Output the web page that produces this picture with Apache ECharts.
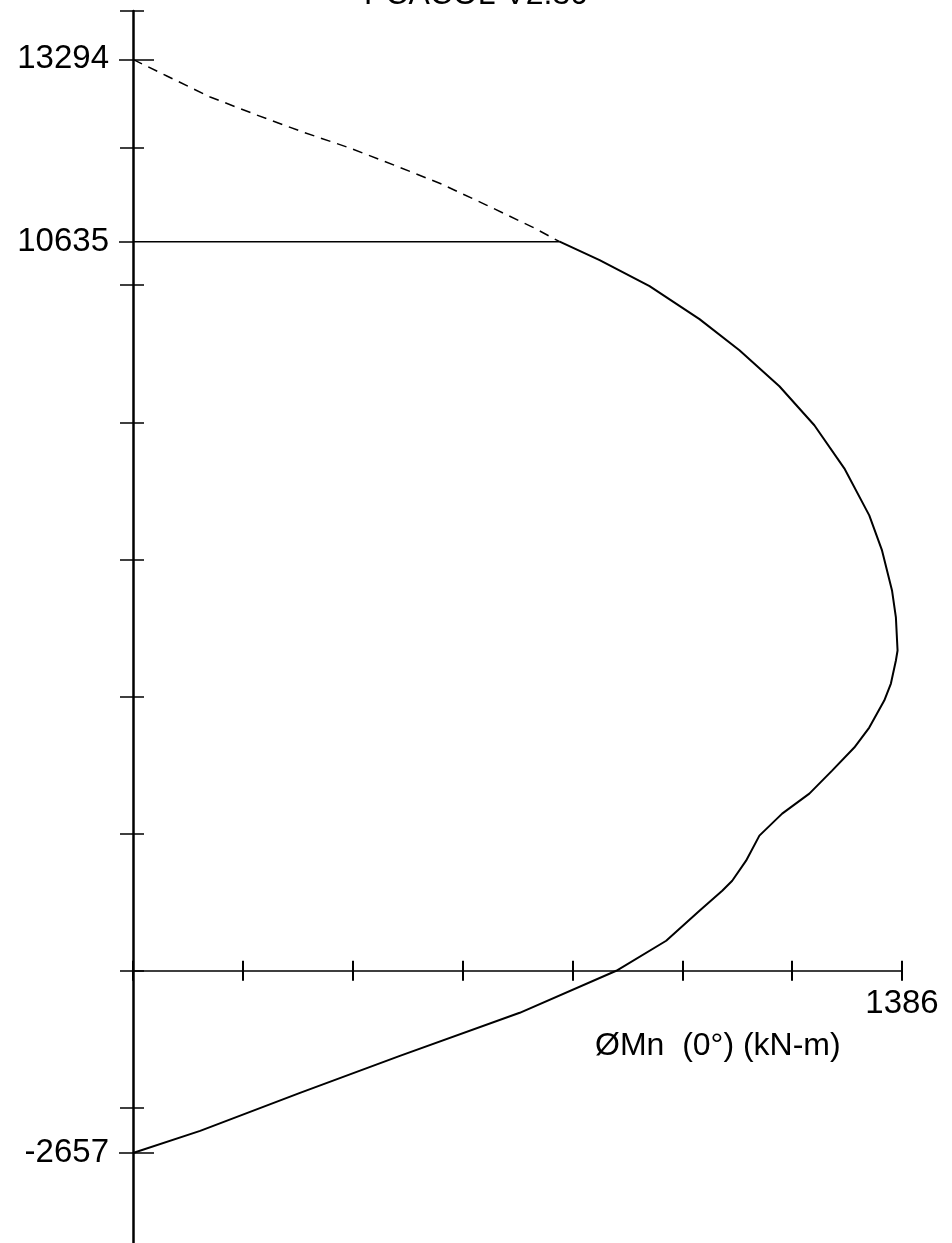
<!DOCTYPE html>
<html>
<head>
<meta charset="utf-8">
<script src="https://cdn.jsdelivr.net/npm/echarts@6/dist/echarts.min.js"></script>
<style>
html,body{margin:0;padding:0;background:#fff;}
#chart{width:952px;height:1243px;}
</style>
</head>
<body>
<div id="chart"></div>
<script>
// ---- data ----
const titleText = 'PCACOL V2.30';
const xAxisName = 'ØMn  (0°) (kN-m)';
const xMax = 1386;          // ØMn axis end
const xTickStep = 198;      // 7 ticks to 1386
const yMin = -4000, yMax = 14000, yTickStep = 2000;
const yLabelValues = [13294, 10635, -2657];
const capP = 10635;          // Pmax cut-off
// dashed (above the cap)
const dashM = [0, 61, 139, 223, 306, 391, 475, 556, 637, 720, 769];
const dashP = [13294, 13052, 12746, 12483, 12235, 12001, 11738, 11476, 11169, 10848, 10635];
// solid interaction curve
const curveM = [769, 841, 931, 1021, 1093, 1165, 1228, 1282, 1327, 1350, 1368, 1375, 1378, 1375, 1366, 1354, 1327, 1300, 1260, 1219, 1170, 1129, 1105, 1080, 1062, 1021, 961, 871, 697, 481, 301, 121, 0];
const curveP = [10635, 10366, 9986, 9505, 9052, 8526, 7957, 7329, 6643, 6132, 5548, 5154, 4672, 4526, 4190, 3942, 3548, 3256, 2920, 2584, 2292, 1971, 1606, 1314, 1168, 876, 438, 0, -613, -1241, -1781, -2336, -2657];

const pair = (a, b) => a.map((v, i) => [v, b[i]]);
const FONT = '"Liberation Sans", Arial, Helvetica, sans-serif';

const chart = echarts.init(document.getElementById('chart'), null, {renderer: 'canvas'});

const baseY = {type: 'value', min: yMin, max: yMax, interval: yTickStep, position: 'left',
  splitLine: {show: false}, axisLabel: {show: false}};
const baseX = {type: 'value', min: 0, max: xMax, interval: xTickStep, position: 'bottom',
  splitLine: {show: false}, axisLabel: {show: false}};

const option = {
  backgroundColor: '#ffffff',
  animation: false,
  grid: {left: 133, right: 50, top: 11, bottom: -2, containLabel: false, outerBoundsMode: 'none'},
  graphic: [
    {type: 'text', left: 'center', top: -21,
      style: {text: titleText, font: '32px ' + FONT, fill: '#000'}},
    {type: 'text', left: 595, top: 1030,
      style: {text: xAxisName, font: '32px ' + FONT, fill: '#000'}}
  ],
  xAxis: [
    Object.assign({}, baseX, {
      axisLine: {show: true, onZero: true, onZeroAxisIndex: 0, lineStyle: {color: '#000', width: 1.5}},
      axisTick: {show: true, inside: false, length: 10, lineStyle: {color: '#000', width: 2}}
    }),
    Object.assign({}, baseX, {
      axisLine: {show: false, onZero: true, onZeroAxisIndex: 0},
      axisTick: {show: true, inside: true, length: 10, lineStyle: {color: '#000', width: 2}},
      name: String(xMax), nameLocation: 'end', nameGap: 0,
      nameTextStyle: {color: '#000', fontSize: 33, fontFamily: FONT, align: 'center', verticalAlign: 'top', padding: [17, 0, 0, 0]}
    })
  ],
  yAxis: [
    Object.assign({}, baseY, {
      axisLine: {show: true, lineStyle: {color: '#000', width: 2.5}},
      axisTick: {show: true, inside: false, length: 13, lineStyle: {color: '#000', width: 1.5}}
    }),
    Object.assign({}, baseY, {
      axisLine: {show: false},
      axisTick: {show: true, inside: true, length: 11, lineStyle: {color: '#000', width: 1.5}}
    }),
    Object.assign({}, baseY, {
      axisLine: {show: false},
      axisTick: {show: true, inside: false, customValues: yLabelValues, length: 14, lineStyle: {color: '#000', width: 1.5}},
      axisLabel: {show: true, customValues: yLabelValues, margin: 24, color: '#000', fontSize: 33, fontFamily: FONT,
        formatter: v => String(v)}
    }),
    Object.assign({}, baseY, {
      axisLine: {show: false},
      axisTick: {show: true, inside: true, customValues: [yLabelValues[0], yLabelValues[2]], length: 21, lineStyle: {color: '#000', width: 1.5}}
    })
  ],
  series: [
    {type: 'line', xAxisIndex: 0, yAxisIndex: 0, data: pair(dashM, dashP), showSymbol: false, symbol: 'none',
      lineStyle: {color: '#000', width: 1.5, type: [10, 7]}, z: 3},
    {type: 'line', xAxisIndex: 0, yAxisIndex: 0, data: [[0, capP], [dashM[dashM.length - 1], capP]], showSymbol: false, symbol: 'none',
      lineStyle: {color: '#000', width: 1.5}, z: 3},
    {type: 'line', xAxisIndex: 0, yAxisIndex: 0, data: pair(curveM, curveP), showSymbol: false, symbol: 'none',
      lineStyle: {color: '#000', width: 2}, z: 3}
  ]
};
chart.setOption(option);
</script>
</body>
</html>
